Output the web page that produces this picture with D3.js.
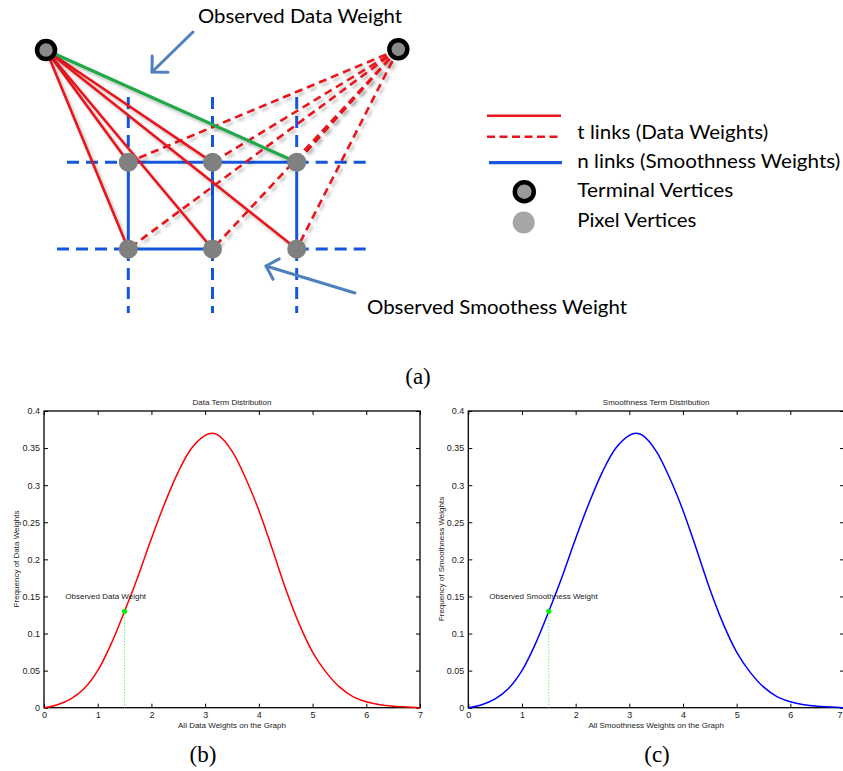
<!DOCTYPE html>
<html>
<head>
<meta charset="utf-8">
<script src="https://cdn.jsdelivr.net/npm/d3@7"></script>
<style>
  html, body { margin: 0; padding: 0; background: #fff; }
  svg { display: block; }
</style>
</head>
<body>
<div id="chart"></div>
<script>
// ---------------- data ----------------
const xWeights   = [0, 0.25, 0.5, 0.75, 1, 1.25, 1.5, 1.75, 2, 2.25, 2.5, 2.75, 3, 3.125, 3.25, 3.5, 3.75, 4, 4.25, 4.5, 4.75, 5, 5.25, 5.5, 5.75, 6, 6.25, 6.5, 6.75, 7];
const dataFreq   = [0, 0.004, 0.012, 0.026, 0.050, 0.086, 0.130, 0.177, 0.228, 0.276, 0.318, 0.350, 0.367, 0.370, 0.367, 0.346, 0.310, 0.266, 0.214, 0.160, 0.113, 0.075, 0.048, 0.028, 0.015, 0.008, 0.004, 0.002, 0.001, 0];
const smoothFreq = [0, 0.004, 0.012, 0.026, 0.050, 0.086, 0.130, 0.177, 0.228, 0.276, 0.318, 0.350, 0.367, 0.370, 0.367, 0.346, 0.310, 0.266, 0.214, 0.160, 0.113, 0.075, 0.048, 0.028, 0.015, 0.008, 0.004, 0.002, 0.001, 0];
const xTickValues = [0, 1, 2, 3, 4, 5, 6, 7];
const yTickValues = [0, 0.05, 0.1, 0.15, 0.2, 0.25, 0.3, 0.35, 0.4];
const observedDataWeight = 1.5, observedDataFreq = 0.13;
const observedSmoothWeight = 1.5, observedSmoothFreq = 0.13;

// diagram (a): grid of pixel vertices and terminal vertices
const gridCols = [0, 1, 2];
const gridRows = [0, 1];
const legendLabels = ["t links (Data Weights)", "n links (Smoothness Weights)", "Terminal Vertices", "Pixel Vertices"];

// ---------------- svg ----------------
const W = 843, H = 771;
const svg = d3.select("#chart").append("svg").attr("width", W).attr("height", H)
  .attr("viewBox", `0 0 ${W} ${H}`);
svg.append("rect").attr("width", W).attr("height", H).attr("fill", "#fff");

const defs = svg.append("defs");
const f = defs.append("filter").attr("id", "sh").attr("x", "-20%").attr("y", "-20%").attr("width", "140%").attr("height", "140%");
f.append("feDropShadow").attr("dx", 2.5).attr("dy", 3).attr("stdDeviation", 1.8)
  .attr("flood-color", "#000").attr("flood-opacity", 0.25);

// ---------------- diagram (a) ----------------
const RED = "#e8161c", BLUE = "#1456dc", GREEN = "#22a84a", ARROW = "#4f81bd";
const colX = d3.scaleLinear().domain([0, 2]).range([128.3, 296.7]);
const rowY = d3.scaleLinear().domain([0, 1]).range([162.3, 249]);

const nodes = [];
gridRows.forEach(r => gridCols.forEach(c => nodes.push({ c, r })));
const termL = { c: -0.977, r: -1.295 };
const termR = { c: 3.207, r: -1.303 };

const gA = svg.append("g");
const P = d => [colX(d.c), rowY(d.r)];

// dashed grid extensions
const ext = [];
gridRows.forEach(r => {
  ext.push([{ c: r === 0 ? -0.728 : -0.847, r }, { c: 0, r }]);
  ext.push([{ c: 2, r }, { c: 2.847, r }]);
});
gridCols.forEach(c => {
  ext.push([{ c, r: -0.753 }, { c, r: 0 }]);
  ext.push([{ c, r: 1 }, { c, r: 1.738 }]);
});
gA.selectAll("line.ext").data(ext).join("line")
  .attr("x1", d => P(d[0])[0]).attr("y1", d => P(d[0])[1])
  .attr("x2", d => P(d[1])[0]).attr("y2", d => P(d[1])[1])
  .attr("stroke", BLUE).attr("stroke-width", 3).attr("stroke-dasharray", "12,7");

// n links
const nLinks = [
  [{ c: 0, r: 0 }, { c: 2, r: 0 }],
  [{ c: 0, r: 1 }, { c: 1, r: 1 }],
  [{ c: 0, r: 0 }, { c: 0, r: 1 }],
  [{ c: 1, r: 0 }, { c: 1, r: 1 }],
  [{ c: 2, r: 0 }, { c: 2, r: 1 }]
];
gA.selectAll("line.n").data(nLinks).join("line")
  .attr("x1", d => P(d[0])[0]).attr("y1", d => P(d[0])[1])
  .attr("x2", d => P(d[1])[0]).attr("y2", d => P(d[1])[1])
  .attr("stroke", BLUE).attr("stroke-width", 3);

// observed smoothness n link (green)
gA.append("line")
  .attr("x1", colX(1)).attr("y1", rowY(1)).attr("x2", colX(2)).attr("y2", rowY(1))
  .attr("stroke", GREEN).attr("stroke-width", 3).attr("filter", "url(#sh)");

// t links dashed (right terminal to every pixel)
gA.selectAll("line.td").data(nodes).join("line")
  .attr("x1", P(termR)[0]).attr("y1", P(termR)[1])
  .attr("x2", d => P(d)[0]).attr("y2", d => P(d)[1])
  .attr("stroke", RED).attr("stroke-width", 2.6).attr("stroke-dasharray", "8,5")
  .attr("filter", "url(#sh)");

// t links solid (left terminal), the top-right one is the observed (green)
gA.selectAll("line.ts").data(nodes).join("line")
  .attr("x1", P(termL)[0]).attr("y1", P(termL)[1])
  .attr("x2", d => P(d)[0]).attr("y2", d => P(d)[1])
  .attr("stroke", d => (d.c === 2 && d.r === 0) ? GREEN : RED)
  .attr("stroke-width", d => (d.c === 2 && d.r === 0) ? 3.2 : 2.6)
  .attr("filter", "url(#sh)");

// pixel vertices
gA.selectAll("circle.px").data(nodes).join("circle")
  .attr("cx", d => P(d)[0]).attr("cy", d => P(d)[1]).attr("r", 9.5)
  .attr("fill", "#808080");

// terminals
gA.selectAll("circle.term").data([termL, termR]).join("circle")
  .attr("cx", d => P(d)[0]).attr("cy", d => P(d)[1]).attr("r", 9)
  .attr("fill", "#8a8a8a").attr("stroke", "#000").attr("stroke-width", 4.5);

// arrows
function arrow(x1, y1, x2, y2, len) {
  const a = Math.atan2(y1 - y2, x1 - x2);
  const g = gA.append("g").attr("stroke", ARROW).attr("stroke-width", 3).attr("fill", "none")
    .attr("stroke-linecap", "round");
  g.append("line").attr("x1", x1).attr("y1", y1).attr("x2", x2).attr("y2", y2);
  const pts = [a - Math.PI / 4, a + Math.PI / 4].map(t => [x2 + len * Math.cos(t), y2 + len * Math.sin(t)]);
  g.append("path").attr("d", `M${pts[0][0]},${pts[0][1]}L${x2},${y2}L${pts[1][0]},${pts[1][1]}`)
    .attr("stroke-linejoin", "round");
}
arrow(193, 32, 152, 72, 16);
arrow(355, 293, 266, 266, 15);

const dFont = "Lato, 'Open Sans', sans-serif";
gA.append("text").attr("x", 198).attr("y", 23).text("Observed Data Weight")
  .attr("font-family", dFont).attr("font-size", 20).attr("textLength", 204).attr("lengthAdjust", "spacingAndGlyphs");
gA.append("text").attr("x", 367).attr("y", 314).text("Observed Smoothess Weight")
  .attr("font-family", dFont).attr("font-size", 20).attr("textLength", 260).attr("lengthAdjust", "spacingAndGlyphs");

// legend
const lg = svg.append("g");
lg.append("line").attr("x1", 487).attr("x2", 561).attr("y1", 115.7).attr("y2", 115.7)
  .attr("stroke", RED).attr("stroke-width", 2.6);
lg.append("line").attr("x1", 487).attr("x2", 561).attr("y1", 136.7).attr("y2", 136.7)
  .attr("stroke", RED).attr("stroke-width", 2.6).attr("stroke-dasharray", "8,4.5");
lg.append("line").attr("x1", 489).attr("x2", 562).attr("y1", 162.7).attr("y2", 162.7)
  .attr("stroke", BLUE).attr("stroke-width", 3.2);
lg.append("circle").attr("cx", 524.3).attr("cy", 191.7).attr("r", 9.5)
  .attr("fill", "#9a9a9a").attr("stroke", "#000").attr("stroke-width", 4.5);
lg.append("circle").attr("cx", 523.7).attr("cy", 222.5).attr("r", 11).attr("fill", "#a6a6a6");
const legY = [138.5, 168.3, 197.3, 226.7];
const legLen = [191, 263, 156, 119];
lg.selectAll("text").data(legendLabels).join("text")
  .attr("x", 577.3).attr("y", (d, i) => legY[i]).text(d => d)
  .attr("font-family", dFont).attr("font-size", 20)
  .attr("textLength", (d, i) => legLen[i]).attr("lengthAdjust", "spacingAndGlyphs");

// captions
const capFont = "'Liberation Serif', 'DejaVu Serif', serif";
const caps = [["(a)", 418, 384], ["(b)", 203, 762], ["(c)", 657, 762]];
svg.selectAll("text.cap").data(caps).join("text").attr("class", "cap")
  .attr("x", d => d[1]).attr("y", d => d[2]).attr("text-anchor", "middle")
  .attr("font-family", capFont).attr("font-size", 23).text(d => d[0]);

// ---------------- plots (b) and (c) ----------------
const pFont = "'Liberation Sans', Arial, sans-serif";
function plot(cfg) {
  const x = d3.scaleLinear().domain([0, 7]).range([cfg.x0, cfg.x1]);
  const y = d3.scaleLinear().domain([0, 0.4]).range([707.7, 411]);
  const g = svg.append("g");
  const ax = (sel) => sel.call(s => s.select(".domain").remove())
    .call(s => s.selectAll("text").attr("font-family", pFont).attr("font-size", 9).attr("fill", "#222"))
    .call(s => s.selectAll("line").attr("stroke", "#000"));

  const bx = g.append("g").attr("transform", `translate(0,${y(0)})`)
    .call(d3.axisBottom(x).tickValues(xTickValues).tickFormat(d3.format("d")).tickSizeInner(-4).tickSizeOuter(0).tickPadding(4))
    .call(ax);
  // keep tick labels inside the page edge
  bx.selectAll(".tick text").each(function () {
    const t = d3.select(this);
    const tx = +d3.select(this.parentNode).attr("transform").match(/translate\(([-\d.]+)/)[1];
    if (tx + 3.5 > W) t.attr("text-anchor", "end").attr("x", W - 0.5 - tx);
  });
  g.append("g").attr("transform", `translate(0,${y(0.4)})`)
    .call(d3.axisTop(x).tickValues(xTickValues).tickFormat("").tickSizeInner(-4).tickSizeOuter(0))
    .call(ax);
  g.append("g").attr("transform", `translate(${x(0)},0)`)
    .call(d3.axisLeft(y).tickValues(yTickValues).tickFormat(d => d === 0 ? "0" : d3.format("")(+d.toFixed(2))).tickSizeInner(-4).tickSizeOuter(0).tickPadding(4))
    .call(ax);
  g.append("g").attr("transform", `translate(${x(7)},0)`)
    .call(d3.axisRight(y).tickValues(yTickValues).tickFormat("").tickSizeInner(-4).tickSizeOuter(0))
    .call(ax);

  g.append("rect").attr("x", x(0)).attr("y", y(0.4)).attr("width", x(7) - x(0)).attr("height", y(0) - y(0.4))
    .attr("fill", "none").attr("stroke", "#000").attr("stroke-width", 1.3);

  const pts = xWeights.map((v, i) => [v, cfg.values[i]]);
  g.append("path").datum(pts)
    .attr("d", d3.line().x(d => x(d[0])).y(d => y(d[1])).curve(d3.curveCatmullRom.alpha(0.5)))
    .attr("fill", "none").attr("stroke", cfg.color).attr("stroke-width", 1.5);

  g.append("line").attr("x1", x(cfg.obsX)).attr("x2", x(cfg.obsX)).attr("y1", y(cfg.obsY)).attr("y2", y(0))
    .attr("stroke", "#33ee33").attr("stroke-width", 1).attr("stroke-dasharray", "1,2");
  g.append("circle").attr("cx", x(cfg.obsX)).attr("cy", y(cfg.obsY)).attr("r", 2.6).attr("fill", "#00ee00");
  g.append("text").attr("x", cfg.obsTextX).attr("y", 599).text(cfg.obsText)
    .attr("font-family", pFont).attr("font-size", 8).attr("fill", "#222");

  g.append("text").attr("x", (x(0) + x(7)) / 2).attr("y", 405).attr("text-anchor", "middle")
    .attr("font-family", pFont).attr("font-size", 8).attr("fill", "#222").text(cfg.title);
  g.append("text").attr("x", (x(0) + x(7)) / 2).attr("y", 728).attr("text-anchor", "middle")
    .attr("font-family", pFont).attr("font-size", 8).attr("fill", "#222").text(cfg.xLabel);
  g.append("text").attr("transform", `translate(${cfg.yLabelX},559) rotate(-90)`)
    .attr("text-anchor", "middle").attr("dominant-baseline", "central")
    .attr("font-family", pFont).attr("font-size", 8).attr("fill", "#222").text(cfg.yLabel);
}

plot({ x0: 44, x1: 420, values: dataFreq, color: "#ff0000",
  obsX: observedDataWeight, obsY: observedDataFreq,
  obsText: "Observed Data Weight", obsTextX: 65.3,
  title: "Data Term Distribution", xLabel: "All Data Weights on the Graph",
  yLabel: "Frequency of Data Weights", yLabelX: 16 });

plot({ x0: 468.3, x1: 844, values: smoothFreq, color: "#0000ff",
  obsX: observedSmoothWeight, obsY: observedSmoothFreq,
  obsText: "Observed Smoothness Weight", obsTextX: 489.3,
  title: "Smoothness Term Distribution", xLabel: "All Smoothness Weights on the Graph",
  yLabel: "Frequency of Smoothness Weights", yLabelX: 441 });
</script>
</body>
</html>
